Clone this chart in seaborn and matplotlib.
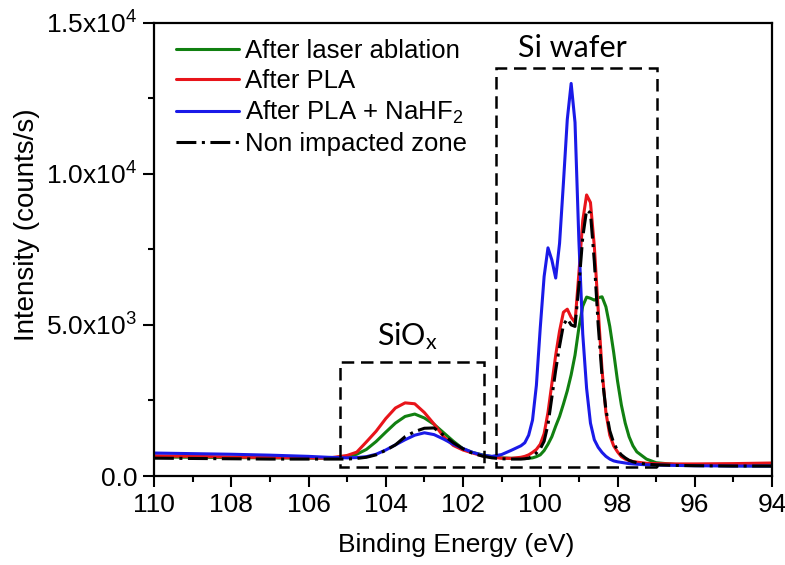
import numpy as np
import pandas as pd
import seaborn as sns
import matplotlib.pyplot as plt
from matplotlib.patches import Rectangle
from matplotlib.ticker import MultipleLocator, FixedLocator

# DATA ───────────────────────────────────────────────────────────────────────
energy = [110, 109, 108, 107, 106, 105.5, 105.0, 104.75, 104.5, 104.25, 104.0,
          103.75, 103.5, 103.25, 103.0, 102.75, 102.5, 102.25, 102.0, 101.75,
          101.5, 101.25, 101.0, 100.75, 100.5, 100.4, 100.3, 100.2, 100.1, 100.0,
          99.9, 99.8, 99.7, 99.6, 99.5, 99.4, 99.3, 99.2, 99.1, 99.0,
          98.9, 98.8, 98.7, 98.6, 98.5, 98.4, 98.3, 98.2, 98.1, 98.0,
          97.9, 97.8, 97.7, 97.6, 97.5, 97.25, 97.0, 96.5, 96.0, 95.0, 94.0]

laser_ablation = [630, 620, 610, 600, 590, 585, 640, 720, 880, 1140, 1450,
                  1750, 1970, 2050, 1920, 1710, 1430, 1150, 900, 780,
                  700, 640, 600, 585, 580, 580, 585, 600, 640, 700,
                  840, 1050, 1300, 1650, 1970, 2380, 2820, 3350, 4000, 4900,
                  5620, 5920, 5880, 5820, 5900, 5930, 5600, 4950, 4100, 3150,
                  2350, 1750, 1300, 1000, 800, 560, 440, 380, 360, 340, 330]

after_pla = [670, 650, 630, 610, 600, 590, 680, 790, 1130, 1480, 1900,
             2250, 2420, 2390, 2100, 1720, 1300, 1010, 860, 760,
             670, 620, 590, 585, 620, 650, 700, 780, 880, 1050,
             1400, 2100, 3050, 4000, 4800, 5420, 5520, 5250, 5080, 6700,
             8450, 9300, 9050, 7600, 5500, 3500, 2100, 1350, 1000, 800,
             640, 560, 510, 480, 460, 420, 410, 400, 400, 410, 430]

after_pla_nahf2 = [760, 740, 720, 690, 650, 620, 600, 610, 640, 720, 860,
                   1030, 1200, 1350, 1430, 1370, 1220, 1050, 910, 780,
                   690, 650, 710, 850, 1000, 1100, 1350, 1850, 3000, 4900,
                   6600, 7550, 7150, 6550, 7700, 9700, 11800, 12990, 11700, 7800,
                   4700, 2900, 1750, 1200, 950, 780, 650, 560, 500, 470,
                   450, 430, 410, 400, 390, 370, 360, 350, 340, 330, 330]

non_impacted = [590, 580, 570, 560, 560, 560, 560, 580, 620, 700, 850,
                1030, 1300, 1470, 1580, 1590, 1350, 1100, 900, 750,
                660, 600, 570, 560, 560, 570, 590, 650, 760, 900,
                1150, 1700, 2600, 3500, 4300, 5000, 5200, 5000, 4950, 6300,
                7900, 8800, 8700, 7100, 5000, 3300, 2200, 1500, 1100, 850,
                700, 600, 520, 470, 440, 390, 370, 350, 340, 330, 330]

series_names = ["After laser ablation", "After PLA",
                r"After PLA + NaHF$\mathregular{_2}$", "Non impacted zone"]
series_colors = ["#118011", "#e8141a", "#1a1ae8", "black"]

# region boxes: (E_high, E_low, I_low, I_high)
siox_box = (105.18, 101.46, 308, 3782)
wafer_box = (101.15, 96.99, 308, 13490)

ytick_vals = [0, 5000, 10000, 15000]
ytick_labels = ["0.0", r"$\mathregular{5.0x10^3}$",
                r"$\mathregular{1.0x10^4}$", r"$\mathregular{1.5x10^4}$"]

df = pd.DataFrame({"energy": energy,
                   series_names[0]: laser_ablation,
                   series_names[1]: after_pla,
                   series_names[2]: after_pla_nahf2,
                   series_names[3]: non_impacted})

# STYLE ──────────────────────────────────────────────────────────────────────
sns.set_style("ticks")
plt.rcParams["font.family"] = ["Liberation Sans", "DejaVu Sans"]
for key in ("text.color", "axes.labelcolor", "xtick.color", "ytick.color",
            "axes.edgecolor"):
    plt.rcParams[key] = "black"

fig = plt.figure(figsize=(7.85, 5.65), dpi=100)
ax = fig.add_axes([154 / 785, 1 - 476 / 565, 618 / 785, 453.3 / 565])

# CURVES ─────────────────────────────────────────────────────────────────────
styles = ["-", "-", "-", (0, (6.5, 1.8, 1, 1.8))]
for name, col, ls in zip(series_names, series_colors, styles):
    sns.lineplot(data=df, x="energy", y=name, color=col, linestyle=ls,
                 linewidth=2.2, label=name, ax=ax, sort=False)

# dashed region boxes
for e_hi, e_lo, i_lo, i_hi in (siox_box, wafer_box):
    ax.add_patch(Rectangle((e_lo, i_lo), e_hi - e_lo, i_hi - i_lo, fill=False,
                           edgecolor="black", linewidth=1.8,
                           linestyle=(0, (5, 2.7)), zorder=5))

ax.text(99.18, 13875, "Si wafer", fontsize=22, family="Lato",
        ha="center", va="baseline")
ax.text(103.44, 4335, r"$\mathregular{SiO_x}$", fontsize=22, family="Lato",
        ha="center", va="baseline")

# AXES ───────────────────────────────────────────────────────────────────────
ax.set_xlim(110, 94)
ax.set_ylim(0, 15000)
ax.xaxis.set_major_locator(MultipleLocator(2))
ax.xaxis.set_minor_locator(MultipleLocator(1))
ax.yaxis.set_major_locator(FixedLocator(ytick_vals))
ax.set_yticklabels(ytick_labels)
ax.yaxis.set_minor_locator(MultipleLocator(2500))
ax.tick_params(which="major", length=8, width=1.5, labelsize=19, pad=4,
               direction="out")
ax.tick_params(which="minor", length=4, width=1.5, direction="out")
for sp in ax.spines.values():
    sp.set_linewidth(1.6)

ax.set_xlabel("Binding Energy (eV)", fontsize=19, va="center")
ax.set_ylabel("Intensity (counts/s)", fontsize=20, va="center")
ax.xaxis.set_label_coords(0.489, -0.152)
ax.yaxis.set_label_coords(-0.205, 0.554)

ax.legend(loc="upper left", bbox_to_anchor=(0.035, 0.965), frameon=False,
          fontsize=18.5, handlelength=2.45, handletextpad=0.25,
          labelspacing=0.24, borderpad=0, borderaxespad=0)

fig.savefig("out.png", dpi=100)
